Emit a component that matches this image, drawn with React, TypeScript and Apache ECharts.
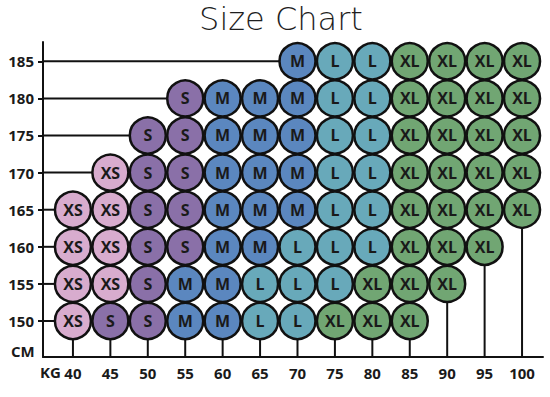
import React, { useEffect, useRef } from "react";
import * as echarts from "echarts";

const weights = [40, 45, 50, 55, 60, 65, 70, 75, 80, 85, 90, 95, 100];
const heights = [150, 155, 160, 165, 170, 175, 180, 185];

// sizes per height row, aligned with weights ('' = no circle)
const row185 = ["", "", "", "", "", "", "M", "L", "L", "XL", "XL", "XL", "XL"];
const row180 = ["", "", "", "S", "M", "M", "M", "L", "L", "XL", "XL", "XL", "XL"];
const row175 = ["", "", "S", "S", "M", "M", "M", "L", "L", "XL", "XL", "XL", "XL"];
const row170 = ["", "XS", "S", "S", "M", "M", "M", "L", "L", "XL", "XL", "XL", "XL"];
const row165 = ["XS", "XS", "S", "S", "M", "M", "M", "L", "L", "XL", "XL", "XL", "XL"];
const row160 = ["XS", "XS", "S", "S", "M", "M", "L", "L", "L", "XL", "XL", "XL", ""];
const row155 = ["XS", "XS", "S", "M", "M", "L", "L", "L", "XL", "XL", "XL", "", ""];
const row150 = ["XS", "S", "S", "M", "M", "L", "L", "XL", "XL", "XL", "", "", ""];

const rows: [number, string[]][] = [
  [185, row185],
  [180, row180],
  [175, row175],
  [170, row170],
  [165, row165],
  [160, row160],
  [155, row155],
  [150, row150],
];

const sizeColors: Record<string, string> = {
  XS: "#d8acce",
  S: "#8a70a8",
  M: "#5b87bf",
  L: "#68a9ba",
  XL: "#71a673",
};

export default function App() {
  const ref = useRef<HTMLDivElement>(null);
  useEffect(() => {
    document.body.style.margin = "0";
    if (!ref.current) return;
    const chart = echarts.init(ref.current, undefined, { renderer: "svg" });

    const points: any[] = [];
    rows.forEach(([h, sizes]) => {
      sizes.forEach((s, i) => {
        if (s) {
          points.push({
            value: [weights[i], h, s],
            itemStyle: { color: sizeColors[s] },
          });
        }
      });
    });

    // connector lines: vertical from each column's lowest circle down to x axis,
    // horizontal from y axis to each row's first circle
    const connectors: any[] = [];
    weights.forEach((w, i) => {
      let low: number | null = null;
      rows.forEach(([h, sizes]) => {
        if (sizes[i] && (low === null || h < low)) low = h;
      });
      if (low !== null) connectors.push([w, low, 0]);
    });
    rows.forEach(([h, sizes]) => {
      const idx = sizes.findIndex((s) => s !== "");
      if (idx >= 0) connectors.push([weights[idx], h, 1]);
    });

    const labelFont = {
      fontFamily: "Open Sans",
      fontWeight: "bold" as const,
      fontSize: 15,
      color: "#1a1a1a",
    };

    chart.setOption({
      animation: false,
      grid: { left: 43, right: 7, top: 42, bottom: 40 },
      xAxis: {
        type: "value",
        min: 36,
        max: 102.8,
        splitLine: { show: false },
        axisLine: { show: true, lineStyle: { color: "#111", width: 2 } },
        axisTick: { show: false },
        axisLabel: {
          ...labelFont,
          margin: 8,
          customValues: weights,
        },
      },
      yAxis: {
        type: "value",
        min: 145.15,
        max: 187.6,
        splitLine: { show: false },
        axisLine: { show: true, lineStyle: { color: "#111", width: 2 } },
        axisTick: {
          show: true,
          length: 5,
          lineStyle: { color: "#111", width: 2 },
          customValues: heights,
        },
        axisLabel: {
          ...labelFont,
          margin: 9,
          customValues: heights,
        },
      },
      graphic: [
        {
          type: "text",
          x: 281,
          y: 3,
          style: {
            text: "Size Chart",
            textAlign: "center",
            fill: "#1e1e1e",
            font: "200 32px 'DejaVu Sans'",
          },
        },
        {
          type: "text",
          left: 11,
          top: 343,
          style: { text: "CM", fill: "#1a1a1a", font: "bold 15px 'Open Sans'" },
        },
        {
          type: "text",
          left: 40,
          top: 364,
          style: { text: "KG", fill: "#1a1a1a", font: "bold 15px 'Open Sans'" },
        },
      ],
      series: [
        {
          type: "custom",
          z: 1,
          data: connectors,
          renderItem: (params: any, api: any) => {
            const x = api.value(0);
            const y = api.value(1);
            const dir = api.value(2);
            const p = api.coord([x, y]);
            const cs = params.coordSys;
            const shape =
              dir === 0
                ? { x1: p[0], y1: p[1], x2: p[0], y2: cs.y + cs.height }
                : { x1: cs.x, y1: p[1], x2: p[0], y2: p[1] };
            return {
              type: "line",
              shape,
              style: { stroke: "#111", lineWidth: 2 },
            };
          },
        },
        {
          type: "scatter",
          z: 3,
          symbol: "circle",
          symbolSize: 36,
          data: points,
          itemStyle: { borderColor: "#111", borderWidth: 2.5, opacity: 1 },
          label: {
            show: true,
            position: "inside",
            formatter: (p: any) => p.value[2],
            fontFamily: "Open Sans",
            fontWeight: "bold",
            fontSize: 16,
            color: "#1a1a1a",
          },
          emphasis: { disabled: true },
        },
      ],
    });
    return () => chart.dispose();
  }, []);
  return <div ref={ref} style={{ width: 550, height: 397 }} />;
}
